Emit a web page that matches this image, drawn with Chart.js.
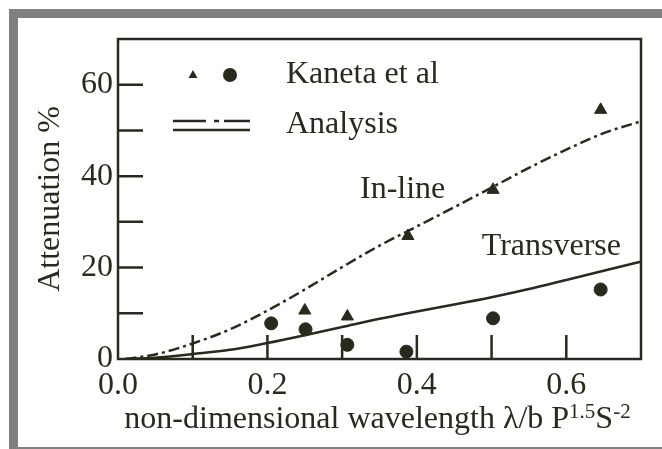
<!DOCTYPE html>
<html>
<head>
<meta charset="utf-8">
<script src="https://cdn.jsdelivr.net/npm/chart.js@4.4.0/dist/chart.umd.min.js"></script>
<style>
  html, body { margin: 0; padding: 0; background: #fff; overflow: hidden; width: 662px; height: 449px; }
  #frame { position: absolute; left: 9px; top: 9px; width: 653px; height: 440px;
           border-top: 9px solid #808080; border-left: 9px solid #808080; box-sizing: border-box; }
  #bottom { position: absolute; left: 9px; top: 447px; width: 653px; height: 2px; background: #808080; }
  canvas { position: absolute; left: 0; top: 0; }
</style>
</head>
<body>
<div id="frame"></div>
<div id="bottom"></div>
<canvas id="myChart" width="662" height="449"></canvas>
<script>
// measured points (Kaneta et al)
let inlineX = [0.25, 0.307, 0.388, 0.502, 0.646];
let inlineY = [10.6, 9.3, 26.9, 37.0, 54.5];
let transX = [0.205, 0.251, 0.307, 0.386, 0.502, 0.646];
let transY = [7.8, 6.5, 3.1, 1.6, 8.9, 15.2];

// analysis curves
let curveX = [0.01, 0.05, 0.1, 0.15, 0.2, 0.25, 0.3, 0.35, 0.4, 0.45, 0.5, 0.55, 0.6, 0.65, 0.7];
let inlineCurve = [0, 1.0, 3.4, 6.5, 10.6, 15.2, 20.1, 24.8, 29.0, 33.2, 37.5, 41.8, 45.8, 49.4, 52.0];
let transCurve = [0, 0.3, 1.1, 2.0, 3.5, 5.2, 7.0, 8.8, 10.4, 11.9, 13.5, 15.3, 17.3, 19.3, 21.3];

// ticks
let xTickValues = [0, 0.1, 0.2, 0.3, 0.4, 0.5, 0.6];
let xTickLabels = ['0.0', '', '0.2', '', '0.4', '', '0.6'];
let yTickValues = [0, 10, 20, 30, 40, 50, 60];
let yTickLabels = ['0', '', '20', '', '40', '', '60'];

// curve labels
let curveLabels = ['In-line', 'Transverse'];
let curveLabelX = [0.381, 0.58];
let curveLabelY = [37.0, 24.5];

const ink = '#29291d';
const serif = '"Liberation Serif", "Times New Roman", serif';

function pts(xs, ys) {
  return xs.map((x, i) => ({ x: x, y: ys[i] }));
}

// box, inward ticks, legend and text labels
const decor = {
  id: 'decor',
  afterDraw(chart) {
    let c = chart.ctx;
    let a = chart.chartArea;
    let xs = chart.scales.x, ys = chart.scales.y;
    c.save();
    c.strokeStyle = ink;
    c.fillStyle = ink;
    c.lineWidth = 2.5;
    c.strokeRect(a.left, a.top, a.right - a.left, a.bottom - a.top);

    // ticks pointing into the plot
    c.beginPath();
    xTickValues.forEach(v => {
      if (v === 0) return;
      let px = xs.getPixelForValue(v);
      c.moveTo(px, a.bottom);
      c.lineTo(px, a.bottom - 24);
    });
    yTickValues.forEach(v => {
      if (v === 0) return;
      let py = ys.getPixelForValue(v);
      c.moveTo(a.left, py);
      c.lineTo(a.left + 25, py);
    });
    c.stroke();

    // legend
    let lx = a.left + 55, ly = a.top + 36;
    c.beginPath();
    c.moveTo(lx + 20, ly - 5);
    c.lineTo(lx + 24.5, ly + 3);
    c.lineTo(lx + 15.5, ly + 3);
    c.closePath();
    c.fill();
    c.beginPath();
    c.arc(lx + 57, ly, 7, 0, Math.PI * 2);
    c.fill();

    c.lineWidth = 2.5;
    c.setLineDash([33, 8, 5, 5, 100]);
    c.beginPath();
    c.moveTo(lx, ly + 46);
    c.lineTo(lx + 77, ly + 46);
    c.stroke();
    c.setLineDash([]);
    c.beginPath();
    c.moveTo(lx, ly + 55);
    c.lineTo(lx + 77, ly + 55);
    c.stroke();

    c.font = '32px ' + serif;
    c.textBaseline = 'middle';
    c.textAlign = 'left';
    c.fillText('Kaneta et al', lx + 113, ly);
    c.fillText('Analysis', lx + 113, ly + 50);

    // curve names
    c.textAlign = 'center';
    curveLabels.forEach((t, i) => {
      c.fillText(t, xs.getPixelForValue(curveLabelX[i]), ys.getPixelForValue(curveLabelY[i]));
    });

    // x axis title with superscripts
    let parts = [
      ['non-dimensional wavelength \u03bb/b P', 32, 0],
      ['1.5', 21, -10],
      ['S', 32, 0],
      ['-2', 21, -10]
    ];
    let total = 0;
    parts.forEach(p => { c.font = p[1] + 'px ' + serif; p.push(c.measureText(p[0]).width); total += p[3]; });
    let tx = (a.left + a.right) / 2 - total / 2 - 2;
    let ty = a.bottom + 69;
    c.textAlign = 'left';
    c.textBaseline = 'alphabetic';
    parts.forEach(p => {
      c.font = p[1] + 'px ' + serif;
      c.fillText(p[0], tx, ty + p[2]);
      tx += p[3];
    });
    c.restore();
  }
};

let ctx = document.getElementById('myChart').getContext('2d');
let myChart = new Chart(ctx, {
  type: 'scatter',
  data: {
    datasets: [
      {
        type: 'line',
        label: 'Analysis in-line',
        data: pts(curveX, inlineCurve),
        borderColor: ink,
        borderWidth: 2.5,
        borderDash: [11, 4, 3, 4],
        pointRadius: 0,
        cubicInterpolationMode: 'monotone',
        fill: false
      },
      {
        type: 'line',
        label: 'Analysis transverse',
        data: pts(curveX, transCurve),
        borderColor: ink,
        borderWidth: 2.5,
        pointRadius: 0,
        cubicInterpolationMode: 'monotone',
        fill: false
      },
      {
        label: 'Kaneta in-line',
        data: pts(inlineX, inlineY),
        pointStyle: 'triangle',
        pointRadius: 7,
        backgroundColor: ink,
        borderColor: ink,
        borderWidth: 1
      },
      {
        label: 'Kaneta transverse',
        data: pts(transX, transY),
        pointStyle: 'circle',
        pointRadius: 6.5,
        backgroundColor: ink,
        borderColor: ink,
        borderWidth: 1
      }
    ]
  },
  options: {
    responsive: false,
    animation: false,
    devicePixelRatio: 1,
    layout: { padding: { left: 0, top: 39, right: 21, bottom: 0 } },
    plugins: { legend: { display: false }, tooltip: { enabled: false } },
    scales: {
      x: {
        type: 'linear',
        min: 0,
        max: 0.7,
        afterBuildTicks: s => { s.ticks = xTickValues.map(v => ({ value: v })); },
        afterFit: s => { s.height = 90; },
        ticks: {
          autoSkip: false,
          maxRotation: 0,
          padding: 7,
          color: ink,
          font: { family: serif, size: 32 },
          callback: (v, i) => xTickLabels[i]
        },
        grid: { display: false, drawTicks: false },
        border: { display: false }
      },
      y: {
        type: 'linear',
        min: 0,
        max: 70,
        afterBuildTicks: s => { s.ticks = yTickValues.map(v => ({ value: v })); },
        afterFit: s => { s.width = 118; },
        ticks: {
          autoSkip: false,
          padding: 5,
          color: ink,
          font: { family: serif, size: 32 },
          callback: (v, i) => yTickLabels[i]
        },
        title: {
          display: true,
          text: 'Attenuation %',
          color: ink,
          font: { family: serif, size: 32 },
          padding: { top: 31, bottom: 0 }
        },
        grid: { display: false, drawTicks: false },
        border: { display: false }
      }
    }
  },
  plugins: [decor]
});
</script>
</body>
</html>
